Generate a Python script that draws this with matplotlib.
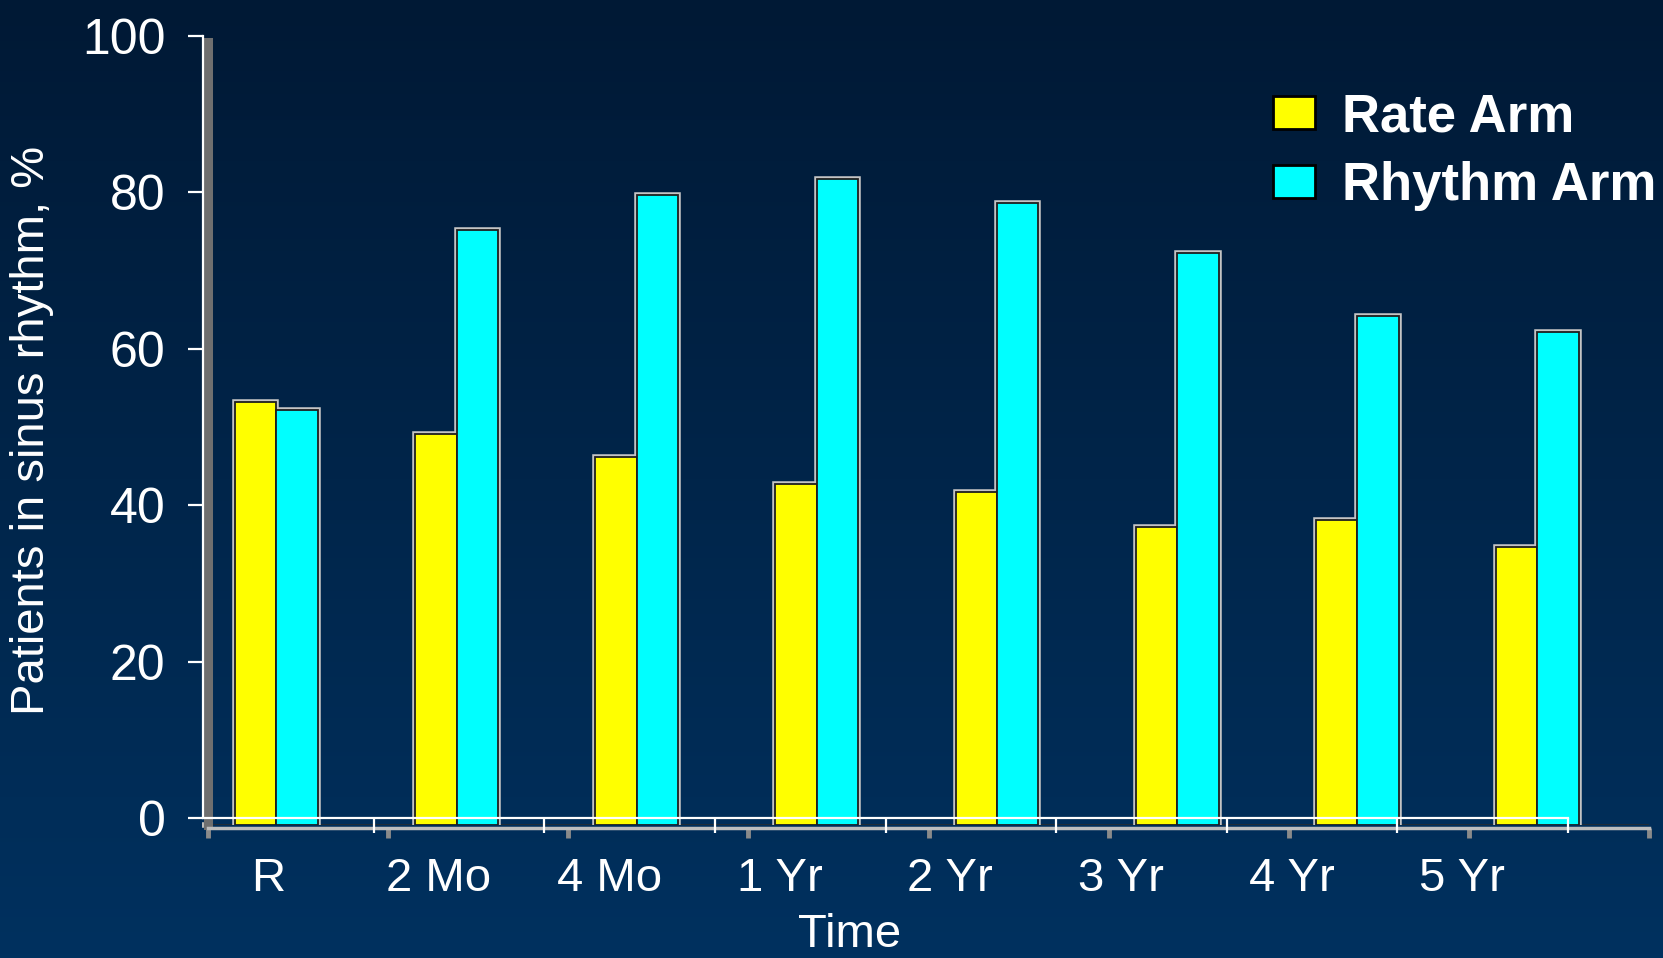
import numpy as np
import matplotlib
matplotlib.use('Agg')
import matplotlib.pyplot as plt
from matplotlib.colors import LinearSegmentedColormap
from matplotlib.patches import Patch

plt.rcParams['font.family'] = ['Liberation Sans', 'DejaVu Sans']

categories = ['R', '2 Mo', '4 Mo', '1 Yr', '2 Yr', '3 Yr', '4 Yr', '5 Yr']
rate_arm = [54, 50, 47, 43.5, 42.5, 38, 39, 35.5]
rhythm_arm = [53, 76, 80.5, 82.5, 79.5, 73, 65, 63]
y_ticks = [0, 20, 40, 60, 80, 100]

W, H = 1663, 958
fig = plt.figure(figsize=(W / 100, H / 100), dpi=100)

# navy gradient background
bg = fig.add_axes([0, 0, 1, 1], zorder=-10)
navy = LinearSegmentedColormap.from_list('navy', ['#001935', '#00315f'])
bg.imshow(np.linspace(0, 1, 256).reshape(-1, 1), aspect='auto', cmap=navy,
          extent=[0, 1, 0, 1], origin='upper')
bg.axis('off')

# bar layer with its own grey frame
bar_ax = fig.add_axes([208 / W, (H - 825) / H, 1441 / W, (825 - 42) / H], zorder=1)
bar_ax.patch.set_alpha(0)
bar_ax.set_xlim(0, len(categories))
bar_ax.set_ylim(0, 100)
for side in ['top', 'right']:
    bar_ax.spines[side].set_visible(False)
bar_ax.spines['left'].set_color('#6f6f6f')
bar_ax.spines['left'].set_linewidth(6.5)
bar_ax.spines['bottom'].set_color('#bdbdbd')
bar_ax.spines['bottom'].set_linewidth(2.5)
bar_ax.spines['bottom'].set_position(('outward', 2.5))
bar_ax.axhline(0, color='#2b2b2b', lw=1.8, zorder=1)
bar_ax.set_xticks(np.arange(len(categories) + 1))
bar_ax.set_yticks(y_ticks)
bar_ax.tick_params(axis='x', direction='out', length=7, width=3.5,
                   color='#8a8a8a', labelbottom=False)
bar_ax.tick_params(axis='y', direction='out', length=4, width=4,
                   color='#bdbdbd', labelleft=False)

x = np.arange(len(categories))
w = 0.23
for xs, vals, col in [(x + 0.15, rate_arm, '#ffff00'), (x + 0.38, rhythm_arm, '#00ffff')]:
    # light bevel underneath, then the filled bar with a dark edge
    bar_ax.bar(xs, vals, w, align='edge', color=col, edgecolor='#c4c4c4',
               linewidth=4, zorder=2)
    bar_ax.bar(xs, vals, w, align='edge', color=col, edgecolor='#1e1e1e',
               linewidth=1.3, zorder=3)

# white axes with the labels on top
ax = fig.add_axes([203 / W, (H - 818) / H, 1365 / W, (818 - 36) / H], zorder=2)
ax.patch.set_alpha(0)
ax.set_xlim(0, len(categories))
ax.set_ylim(0, 100)
for side in ['top', 'right']:
    ax.spines[side].set_visible(False)
for side in ['left', 'bottom']:
    ax.spines[side].set_color('white')
    ax.spines[side].set_linewidth(1.6)
ax.set_yticks(y_ticks)
ax.tick_params(axis='y', direction='out', length=11, width=1.6, color='white',
               labelcolor='white', labelsize=36, pad=16)
ax.set_xticks(x + 0.38)
ax.set_xticklabels(categories)
ax.set_xticks(np.arange(1, len(categories) + 1), minor=True)
ax.tick_params(axis='x', which='major', length=0, labelcolor='white',
               labelsize=34, pad=28)
ax.tick_params(axis='x', which='minor', direction='out', length=11, width=1.6,
               color='white')

fig.text(850 / W, 1 - 935 / H, 'Time', color='white', fontsize=34,
         ha='center', va='center')
fig.text(32 / W, 1 - 430 / H, 'Patients in sinus rhythm, %', color='white',
         fontsize=34, rotation=90, ha='center', va='center')

handles = [Patch(facecolor='#ffff00', edgecolor='black', linewidth=2),
           Patch(facecolor='#00ffff', edgecolor='black', linewidth=2)]
leg = fig.legend(handles, ['Rate Arm', 'Rhythm Arm'], loc='upper left',
                 bbox_to_anchor=(1273 / W, 1 - 92 / H), frameon=False,
                 borderpad=0, borderaxespad=0, handlelength=0.8,
                 handleheight=0.6, handletextpad=0.5, labelspacing=0.36,
                 prop={'size': 38, 'weight': 'bold'})
for t in leg.get_texts():
    t.set_color('white')

fig.savefig('out.png', dpi=100)
